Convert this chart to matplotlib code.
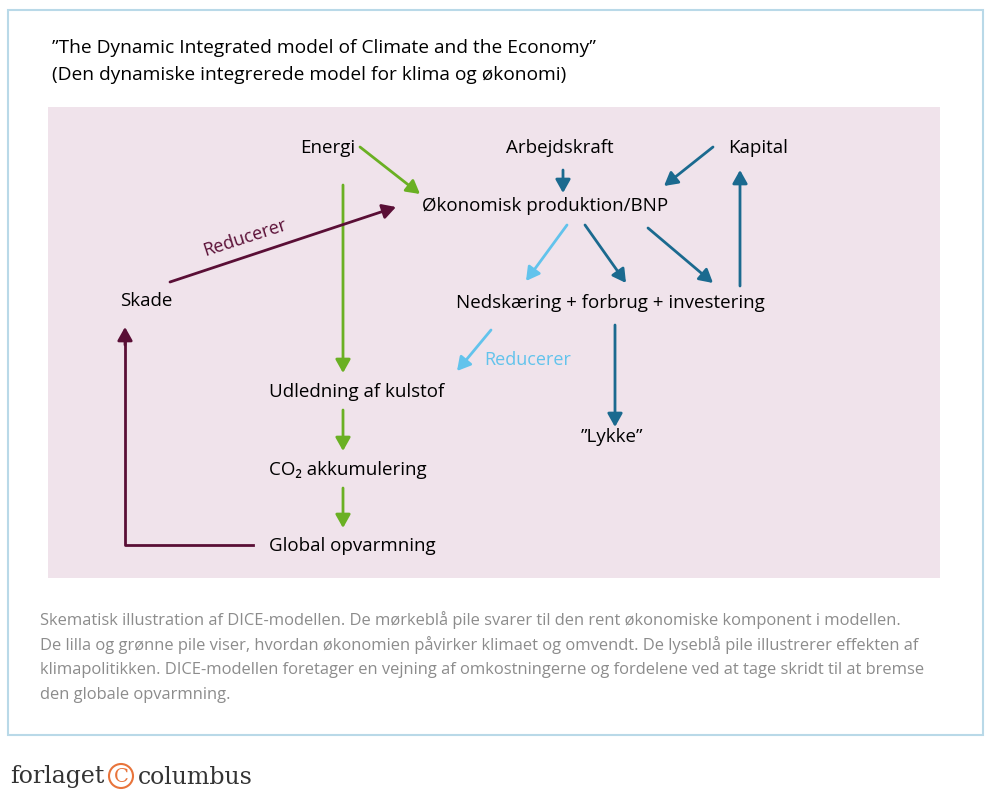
import matplotlib
matplotlib.use("Agg")
import matplotlib.pyplot as plt
from matplotlib.patches import Rectangle, FancyArrowPatch, Circle

title_lines = ["”The Dynamic Integrated model of Climate and the Economy”",
               "(Den dynamiske integrerede model for klima og økonomi)"]
node_labels = ["Energi", "Arbejdskraft", "Kapital", "Økonomisk produktion/BNP", "Skade",
               "Nedskæring + forbrug + investering", "Udledning af kulstof", "”Lykke”",
               "CO₂ akkumulering", "Global opvarmning"]
caption_lines = [
    "Skematisk illustration af DICE-modellen. De mørkeblå pile svarer til den rent økonomiske komponent i modellen.",
    "De lilla og grønne pile viser, hvordan økonomien påvirker klimaet og omvendt. De lyseblå pile illustrerer effekten af",
    "klimapolitikken. DICE-modellen foretager en vejning af omkostningerne og fordelene ved at tage skridt til at bremse",
    "den globale opvarmning."]

node_pos = [(328,148),(560,148),(758,148),(545,206),(146,301),(610,303),(357,392),(612,437),(348,470),(352,546)]

GREEN, DBLUE, LBLUE, PURPLE = "#6ab023", "#1b6a8f", "#62c3ec", "#5a0f36"
arrows = [((360,147),(420,194),GREEN),((343,185),(343,373),GREEN),((343,410),(343,451),GREEN),
          ((343,488),(343,528),GREEN),((563,170),(563,193),DBLUE),((713,147),(664,186),DBLUE),
          ((585,225),(626,283),DBLUE),((648,228),(713,283),DBLUE),((740,286),(740,170),DBLUE),
          ((615,325),(615,427),DBLUE),((567,225),(526,281),LBLUE),((491,330),(457,371),LBLUE),
          ((170,282),(396,207),PURPLE)]

AS = "-|>,head_length=5,head_width=2.8"
fig = plt.figure(figsize=(10,7.95), dpi=100)
ax = fig.add_axes([0,0,1,1]); ax.set_xlim(0,1000); ax.set_ylim(795,0); ax.axis("off")
ax.add_patch(Rectangle((8,10),975,725,fill=False,ec="#b9d9e8",lw=1.5))
ax.add_patch(Rectangle((48,107),892,471,fc="#f0e3eb",ec="none"))
font = "Open Sans"
ax.text(52,48,title_lines[0],fontsize=13.8,family=font,va="center")
ax.text(52,75,title_lines[1],fontsize=13.8,family=font,va="center")
for lab,(x,y) in zip(node_labels,node_pos):
    ax.text(x,y,lab,fontsize=13.5,family=font,ha="center",va="center")
for s,e,c in arrows:
    ax.add_patch(FancyArrowPatch(s,e,arrowstyle=AS,color=c,lw=2,mutation_scale=1.6,shrinkA=0,shrinkB=0))
ax.plot([253,125,125],[545,545,340],color=PURPLE,lw=2)
ax.add_patch(FancyArrowPatch((125,345),(125,327),arrowstyle=AS,color=PURPLE,lw=2,mutation_scale=1.6,shrinkA=0,shrinkB=0))
ax.text(245,238,"Reducerer",color=PURPLE,fontsize=13,family=font,ha="center",va="center",rotation=18)
ax.text(528,360,"Reducerer",color=LBLUE,fontsize=13,family=font,ha="center",va="center")
for i,l in enumerate(caption_lines):
    ax.text(40,620+25*i,l,color="#8c8c8c",fontsize=11.9,family=font,va="center")
ax.text(10,777,"forlaget",fontsize=17,family="DejaVu Serif",va="center",color="#333")
ax.add_patch(Circle((121,776),12,fill=False,ec="#e8743b",lw=1.5))
ax.text(121,777,"C",fontsize=14,color="#e8743b",ha="center",va="center",family="DejaVu Serif")
ax.text(138,777,"columbus",fontsize=17,family="DejaVu Serif",va="center",color="#333")
fig.savefig("out.png",dpi=100)
